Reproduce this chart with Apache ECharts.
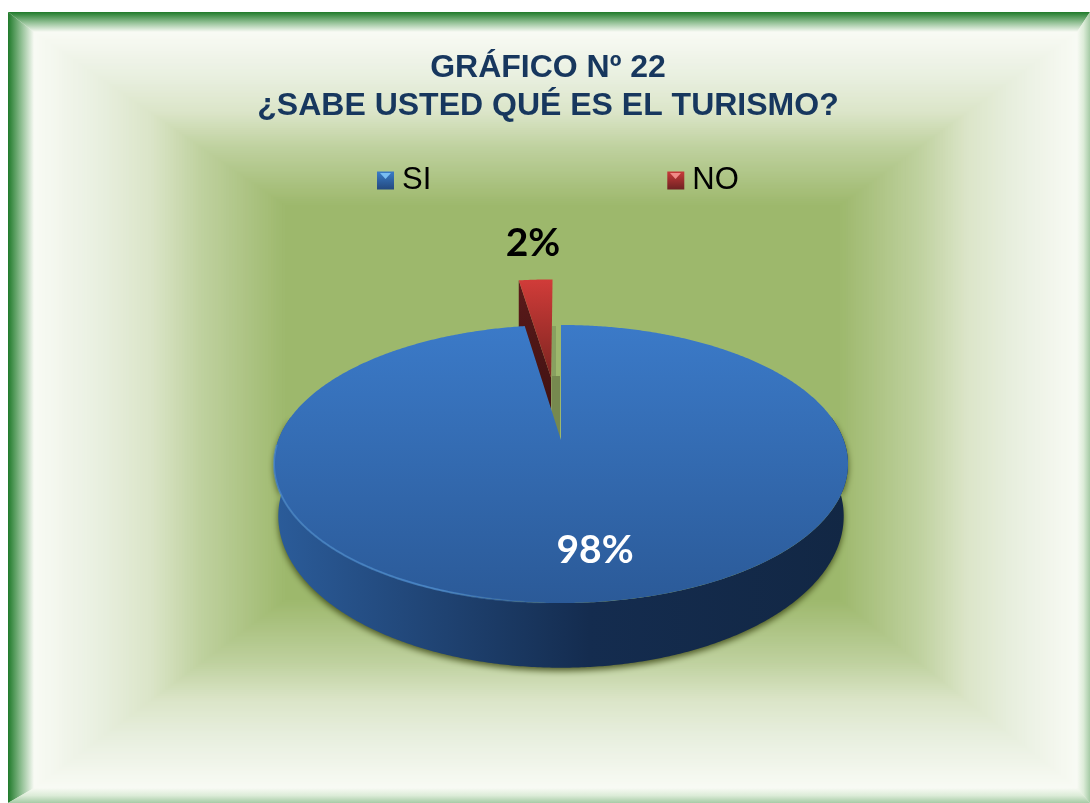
<!DOCTYPE html>
<html>
<head>
<meta charset="utf-8">
<title>Gráfico 22</title>
<style>
html, body { margin: 0; padding: 0; background: #fff; }
#chart { width: 1090px; height: 803px; }
</style>
<script src="https://cdn.jsdelivr.net/npm/echarts@6/dist/echarts.min.js"></script>
</head>
<body>
<div id="chart"></div>
<script>
// Data: the picture labels these 98% and 2%, the cut of the slice reads slightly over 2
const categories = ['SI', 'NO'];
const values = [97.6, 2.4];
const titleLines = ['GRÁFICO Nº 22', '¿SABE USTED QUÉ ES EL TURISMO?'];

const total = values.reduce((a, b) => a + b, 0);
const chart = echarts.init(document.getElementById('chart'));

const vgrad = (top, bottom) => new echarts.graphic.LinearGradient(0, 0, 0, 1, [
    { offset: 0, color: top }, { offset: 1, color: bottom }
]);

// Pie seen in perspective: unit circle (u, v) to screen
const CX = 561, CY = 440, R = 282.7, A = 134.9, B = 0.1727;
const DEPTH_Y = 50, DEPTH_SX = 0.985, DEPTH_SY = 1.09, EXPLODE = 0.5, SLICE_DEPTH = 60;
const rad = d => d * Math.PI / 180;

const project = (deg, r, du, dv, bottom) => {
    const u = r * Math.sin(rad(deg)) + du;
    const v = -r * Math.cos(rad(deg)) + dv;
    const w = 1 - B * v;
    if (bottom) return [CX + DEPTH_SX * R * u / w, CY + DEPTH_Y + DEPTH_SY * A * v / w];
    return [CX + R * u / w, CY + A * v / w];
};

const arc = (from, to, du, dv, bottom) => {
    const pts = [];
    const steps = Math.max(2, Math.ceil(Math.abs(to - from) * 2));
    for (let i = 0; i <= steps; i++) {
        pts.push(project(from + (to - from) * i / steps, 1, du, dv, bottom));
    }
    return pts;
};

const percent = i => Math.round(values[i] / total * 100) + '%';

// First slice starts at 12 o'clock and runs clockwise
const renderSi = (params, api) => {
    const sweep = api.value(1) / total * 360;
    const wallFrom = Math.min(80, sweep), wallTo = Math.min(280, sweep);
    const wallGrad = new echarts.graphic.LinearGradient(0, 0, 1, 0, [
        { offset: 0, color: '#2b5c9a' },
        { offset: 0.3, color: '#1f4271' },
        { offset: 0.55, color: '#142c4f' },
        { offset: 1, color: '#122744' }
    ]);
    return {
        type: 'group',
        children: [
            // shadow showing in the gap left by the other slice
            { type: 'polygon', shape: { points: [[552, 326], [556, 326], [556, 376], [552, 376]] }, style: { fill: '#88a060' } },
            { type: 'polygon', shape: { points: [[552, 376], [560, 376], [560, 440], [552, 440]] }, style: { fill: '#76894f' } },
            {
                type: 'polygon',
                shape: { points: arc(wallFrom, wallTo, 0, 0, false).concat(arc(wallTo, wallFrom, 0, 0, true)) },
                style: { fill: wallGrad, shadowBlur: 6, shadowColor: 'rgba(60,70,20,0.85)', shadowOffsetY: 3 }
            },
            {
                type: 'polygon',
                shape: { points: [[CX, CY]].concat(arc(0, sweep, 0, 0, false)) },
                style: { fill: vgrad('#3b7ac8', '#2b5a98') }
            },
            {
                type: 'polyline',
                shape: { points: arc(182, 268, 0, 0, false) },
                style: {
                    fill: 'none',
                    lineWidth: 2,
                    stroke: new echarts.graphic.LinearGradient(0, 0, 1, 0, [
                        { offset: 0, color: 'rgba(80,145,215,0.55)' },
                        { offset: 0.6, color: 'rgba(80,145,215,0.7)' },
                        { offset: 1, color: 'rgba(80,145,215,0)' }
                    ])
                }
            },
            {
                type: 'text',
                x: 595, y: 550,
                style: { text: percent(api.value(0)), fill: '#fff', font: 'bold 39px Lato', textAlign: 'center', textVerticalAlign: 'middle' }
            }
        ]
    };
};

// Second slice, pulled out along its middle angle
const renderNo = (params, api) => {
    const sweep = api.value(1) / total * 360;
    const start = 360 - sweep, mid = start + sweep / 2;
    const du = EXPLODE * Math.sin(rad(mid)), dv = -EXPLODE * Math.cos(rad(mid));
    const apexTop = project(0, 0, du, dv, false);
    const leftTop = project(start, 1, du, dv, false);
    const apexBottom = [apexTop[0], apexTop[1] + SLICE_DEPTH];
    const leftBottom = [leftTop[0], leftTop[1] + SLICE_DEPTH];
    return {
        type: 'group',
        children: [
            { type: 'polygon', shape: { points: [apexTop, leftTop, leftBottom, apexBottom] }, style: { fill: vgrad('#5a1a1a', '#3c1010') } },
            { type: 'polygon', shape: { points: [apexTop].concat(arc(start, 360, du, dv, false)) }, style: { fill: vgrad('#d13c39', '#7c2420') } },
            {
                type: 'text',
                x: 533, y: 243,
                style: { text: percent(api.value(0)), fill: '#000', font: 'bold 39px Lato', textAlign: 'center', textVerticalAlign: 'middle' }
            }
        ]
    };
};

// Frame: dark bevel on the outside, then nested rects fading to the flat centre
const bevel = (pts, x2, y2, stops) => ({
    type: 'polygon',
    silent: true,
    shape: { points: pts },
    style: {
        fill: new echarts.graphic.LinearGradient(0, 0, x2, y2, stops.map((c, i) => ({ offset: i / (stops.length - 1), color: c })))
    }
});

const OUT = [8, 12, 1090, 803], IN = [34, 32, 1077, 788], MID = [285, 205, 840, 600];
const dark = ['#1f7a2a', '#8dbd90', '#f8faf4'], light = ['#f8faf4', '#dcecd8', '#a6cba6'];

const border = [
    { type: 'rect', silent: true, shape: { x: OUT[0], y: OUT[1], width: OUT[2] - OUT[0], height: OUT[3] - OUT[1] }, style: { fill: '#eef3e6' } },
    bevel([[OUT[0], OUT[1]], [OUT[2], OUT[1]], [IN[2], IN[1]], [IN[0], IN[1]]], 0, 1, dark),
    bevel([[OUT[0], OUT[1]], [IN[0], IN[1]], [IN[0], IN[3]], [OUT[0], OUT[3]]], 1, 0, dark),
    bevel([[IN[0], IN[3]], [IN[2], IN[3]], [OUT[2], OUT[3]], [OUT[0], OUT[3]]], 0, 1, light),
    bevel([[IN[2], IN[1]], [OUT[2], OUT[1]], [OUT[2], OUT[3]], [IN[2], IN[3]]], 1, 0, light)
];

const rampStops = [0, 0.26, 0.46, 0.66, 1];
const rampColors = ['#f8faf4', '#e8efdf', '#dbe5c8', '#bfd19f', '#9db86c'];
const rampAt = t => {
    let i = 0;
    while (i < rampStops.length - 2 && t > rampStops[i + 1]) i++;
    const f = (t - rampStops[i]) / (rampStops[i + 1] - rampStops[i]);
    return echarts.color.lerp(f, [rampColors[i], rampColors[i + 1]]);
};

const nested = [];
const RINGS = 90;
for (let i = 0; i <= RINGS; i++) {
    const t = i / RINGS;
    const x0 = IN[0] + (MID[0] - IN[0]) * t, y0 = IN[1] + (MID[1] - IN[1]) * t;
    const x1 = IN[2] + (MID[2] - IN[2]) * t, y1 = IN[3] + (MID[3] - IN[3]) * t;
    nested.push({ type: 'rect', silent: true, shape: { x: x0, y: y0, width: x1 - x0, height: y1 - y0 }, style: { fill: rampAt(t) } });
}

// Small lit facet on each legend key
const legendFacets = [
    { type: 'polygon', z: 10, silent: true, shape: { points: [[380, 173], [391, 173], [385.5, 179]] }, style: { fill: '#79bdf2' } },
    { type: 'polygon', z: 10, silent: true, shape: { points: [[670, 173], [681, 173], [675.5, 179]] }, style: { fill: '#f08a86' } }
];

chart.setOption({
    animation: false,
    title: {
        text: titleLines.join('\n'),
        left: 543,
        top: 44,
        textAlign: 'center',
        textStyle: { color: '#17375e', fontFamily: 'Liberation Sans', fontWeight: 'bold', fontSize: 32, lineHeight: 38 }
    },
    legend: {
        left: 372,
        top: 160,
        icon: 'rect',
        itemWidth: 17,
        itemHeight: 18,
        itemGap: 236,
        textStyle: { color: '#000', fontFamily: 'Liberation Sans', fontSize: 31, padding: [0, 0, 0, 3] },
        data: [
            { name: categories[0], itemStyle: { color: vgrad('#3a7cc8', '#24497e') } },
            { name: categories[1], itemStyle: { color: vgrad('#c83a3a', '#6e2222') } }
        ]
    },
    graphic: { elements: border.concat(nested, legendFacets) },
    series: [
        {
            name: categories[1],
            type: 'custom',
            coordinateSystem: 'none',
            z: 2,
            itemStyle: { color: '#c0392f' },
            renderItem: renderNo,
            data: [[1, values[1]]]
        },
        {
            name: categories[0],
            type: 'custom',
            coordinateSystem: 'none',
            z: 3,
            itemStyle: { color: '#3a78c4' },
            renderItem: renderSi,
            data: [[0, values[0]]]
        }
    ]
});
</script>
</body>
</html>
